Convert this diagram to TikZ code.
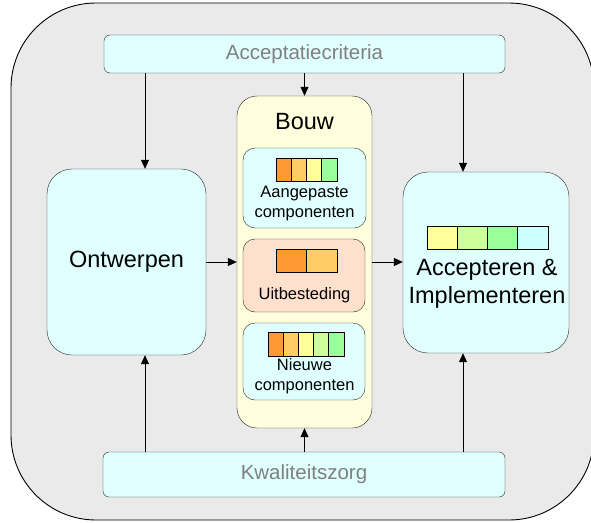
\documentclass[tikz,border=0pt]{standalone}
\usepackage{fontspec}
\setmainfont{Liberation Sans}
\usetikzlibrary{arrows.meta,positioning}
\definecolor{bgray}{HTML}{EAEAEA}
\definecolor{lcyan}{HTML}{E0FFFF}
\definecolor{lyell}{HTML}{FFFFDD}
\definecolor{peach}{HTML}{FFE0CC}
\definecolor{orng}{HTML}{FF9933}
\definecolor{lorng}{HTML}{FFCC66}
\definecolor{yell}{HTML}{FFFF99}
\definecolor{lgrn}{HTML}{CCFF99}
\definecolor{grn}{HTML}{99FF99}
\definecolor{cyn}{HTML}{CCFFFF}

\begin{document}
\begin{tikzpicture}[x=1pt,y=-1pt,
  box/.style={draw=black!85,fill=lcyan,inner sep=0pt,rounded corners=#1},
  big/.style={font=\fontsize{23.5}{28}\selectfont},
  mid/.style={font=\fontsize{20.5}{24}\selectfont,text=black!50},
  small/.style={font=\fontsize{16.5}{20}\selectfont,align=center},
  cell/.style={draw=black,line width=0.8pt},
  arr/.style={-{Triangle[length=9pt,width=8pt]},line width=0.7pt}]
\useasboundingbox (0,0) rectangle (591,522);
\draw[fill=bgray,line width=0.9pt,rounded corners=85] (11,3) rectangle (594,520);

% bovenste en onderste balk
\node (crit) [box=6,minimum width=401,minimum height=38,mid] at (304.5,54) {Acceptatiecriteria};
\node (kwal) [box=6,minimum width=402,minimum height=45,mid] at (304,474.5) {Kwaliteitszorg};

% fasen
\node (ontw) [box=25,minimum width=159,minimum height=186,big] at (126.5,262) {Ontwerpen};
\node (acc) [box=25,minimum width=166,minimum height=181] at (486,262.5) {};
\node (acctxt) [big,align=center] at (487,284) {Accepteren \&\\Implementeren};
\node (bouw) [box=20,fill=lyell,minimum width=135,minimum height=332] at (304.5,262) {};
\node (bouwtxt) [big] at (304.5,122) {Bouw};

% onderdelen van de bouw
\node (aang) [box=12,minimum width=123,minimum height=80] at (304.5,188) {};
\node (aangtxt) [small] at (304.5,204) {Aangepaste\\componenten};
\node (uitb) [box=12,fill=peach,minimum width=122,minimum height=73] at (304,275.5) {};
\node (uitbtxt) [small] at (304.5,295) {Uitbesteding};
\node (nieuw) [box=12,minimum width=122,minimum height=77] at (304,361.5) {};
\node (nieuwtxt) [small] at (304.5,376) {Nieuwe\\componenten};

% kleurbalkjes
\foreach \c [count=\i from 0] in {orng,lorng,yell,grn}
  \draw[cell,fill=\c] (276+\i*15.25,158) rectangle ++(15.25,23);
\foreach \c [count=\i from 0] in {orng,lorng}
  \draw[cell,fill=\c] (276+\i*30.5,249) rectangle ++(30.5,23);
\foreach \c [count=\i from 0] in {orng,lorng,yell,lgrn,grn}
  \draw[cell,fill=\c] (268+\i*15.2,332) rectangle ++(15.2,24);
\foreach \c [count=\i from 0] in {yell,lgrn,grn,cyn}
  \draw[cell,fill=\c] (427+\i*30.25,226) rectangle ++(30.25,23);

% pijlen
\coordinate (ol) at (145,0);
\coordinate (al) at (463,0);
\draw[arr] (crit.south -| ol) -- (ontw.north -| ol);
\draw[arr] (crit.south -| bouw.north) -- (bouw.north);
\draw[arr] (crit.south -| al) -- (acc.north -| al);
\draw[arr] (kwal.north -| ol) -- (ontw.south -| ol);
\draw[arr] (kwal.north -| bouw.south) -- (bouw.south);
\draw[arr] (kwal.north -| al) -- (acc.south -| al);
\draw[arr] (ontw.east) -- (ontw.east -| bouw.west);
\draw[arr] (bouw.east) -- (bouw.east -| acc.west);
\end{tikzpicture}
\end{document}
